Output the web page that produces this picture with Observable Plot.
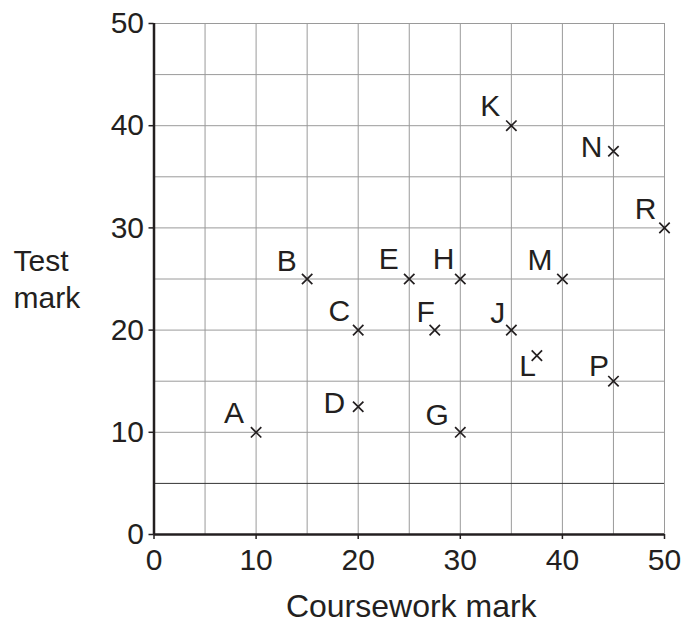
<!DOCTYPE html>
<html>
<head>
<meta charset="utf-8">
<script src="https://cdn.jsdelivr.net/npm/d3@7"></script>
<script src="https://cdn.jsdelivr.net/npm/@observablehq/plot@0.6"></script>
<style>
  html, body { margin: 0; padding: 0; background: #fff; }
  #chart svg { display: block; }
</style>
</head>
<body>
<div id="chart"></div>
<script>
// ---- data ----
const names      = ["A", "B", "C", "D", "E", "F", "G", "H", "J", "K", "L", "M", "N", "P", "R"];
const coursework = [10, 15, 20, 20, 25, 27.5, 30, 30, 35, 35, 37.5, 40, 45, 45, 50];
const testMark   = [10, 25, 20, 12.5, 25, 20, 10, 25, 20, 40, 17.5, 25, 37.5, 15, 30];
const axisTicks  = [0, 10, 20, 30, 40, 50];
const gridStep   = [5, 10, 15, 20, 25, 30, 35, 40, 45, 50];
const xLabel = "Coursework mark";
const yLabel = "Test\nmark";

// ---- label placement (style) ----
const labelOffset = {
  A: [-12, -9], B: [-10.5, -8], C: [-8, -9], D: [-13, 6], E: [-10.5, -10],
  F: [0, -8], G: [-11.5, -7], H: [-6, -10], J: [-6, -7], K: [-11, -10],
  L: [-1, 20], M: [-10, -9], N: [-11, 6], P: [-4.5, -5], R: [-8, -9]
};

const ink = "#231f20";
const font = 30;
const idx = d3.range(names.length);

const labelMarks = idx.map(i => Plot.text([i], {
  x: j => coursework[j], y: j => testMark[j], text: j => names[j],
  textAnchor: "end", lineAnchor: "bottom",
  dx: labelOffset[names[i]][0], dy: labelOffset[names[i]][1],
  fontSize: font, fill: ink
}));

const chart = Plot.plot({
  width: 683,
  height: 624,
  marginLeft: 153.5,
  marginRight: 19,
  marginTop: 23,
  marginBottom: 90,
  style: { fontFamily: "'Liberation Sans', Arial, Helvetica, sans-serif", color: ink, background: "#fff" },
  x: { domain: [0, 50], axis: null },
  y: { domain: [0, 50], axis: null },
  marks: [
    Plot.gridX(gridStep, { stroke: "#9a9a9a", strokeOpacity: 1, strokeWidth: 1 }),
    Plot.gridY(gridStep.filter(v => v !== 5), { stroke: "#9a9a9a", strokeOpacity: 1, strokeWidth: 1 }),
    Plot.gridY([5], { stroke: "#333", strokeOpacity: 1, strokeWidth: 1 }),
    Plot.axisX(axisTicks, { tickSize: 5, tickPadding: 9, fontSize: font, stroke: ink, strokeWidth: 1.5, label: null }),
    Plot.axisY(axisTicks, { tickSize: 5, tickPadding: 5, fontSize: font, stroke: ink, strokeWidth: 1.5, label: null }),
    Plot.ruleY([0], { stroke: ink, strokeWidth: 2.5 }),
    Plot.ruleX([0], { stroke: ink, strokeWidth: 2.5 }),
    Plot.dot(idx, { x: i => coursework[i], y: i => testMark[i], symbol: "times", r: 4.8, stroke: ink, strokeWidth: 1.7 }),
    ...labelMarks,
    Plot.text([xLabel], { frameAnchor: "bottom", textAnchor: "middle", lineAnchor: "bottom", dx: 2, dy: 82, fontSize: 32, fill: ink }),
    Plot.text([yLabel], { frameAnchor: "left", textAnchor: "start", lineAnchor: "bottom", dx: -140.5, dy: 28.5, lineHeight: 1.23, fontSize: font, fill: ink })
  ]
});
document.getElementById("chart").appendChild(chart);
</script>
</body>
</html>
